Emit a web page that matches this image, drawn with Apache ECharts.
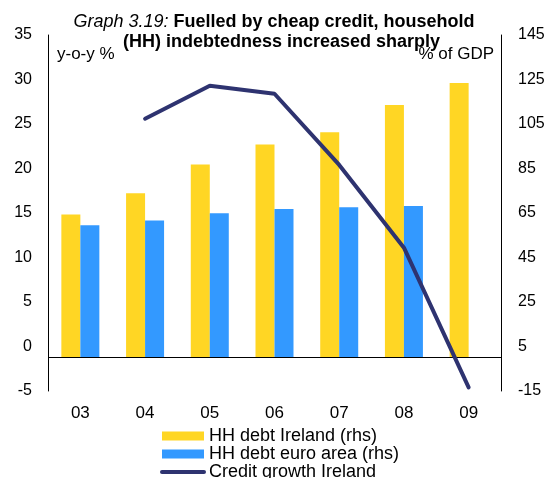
<!DOCTYPE html>
<html>
<head>
<meta charset="utf-8">
<script src="https://cdn.jsdelivr.net/npm/echarts@6/dist/echarts.min.js"></script>
<style>
  html, body { margin: 0; padding: 0; background: #fff; }
  #chart { width: 548px; height: 478px; }
</style>
</head>
<body>
<div id="chart"></div>
<script>
var years = ['03', '04', '05', '06', '07', '08', '09']
var debtIreland = [64.3, 73.9, 86.8, 95.8, 101.3, 113.5, 123.4]
var debtEuro = [59.5, 61.6, 64.9, 66.8, 67.6, 68.1, null]
var creditGrowth = [null, 25.6, 29.3, 28.4, 20.4, 11.1, -4.6]

var font = 'Arial, "Liberation Sans", sans-serif'
var chart = echarts.init(document.getElementById('chart'))

var option = {
  animation: false,
  textStyle: { fontFamily: font },
  title: {
    left: 'center',
    top: 7,
    text: '{i|Graph 3.19:} {b|Fuelled by cheap credit, household}\n   {b|(HH) indebtedness increased sharply}',
    textStyle: {
      rich: {
        i: { fontStyle: 'italic', fontWeight: 'normal', fontSize: 18, color: '#000', fontFamily: font, lineHeight: 20 },
        b: { fontWeight: 'bold', fontSize: 18, color: '#000', fontFamily: font, lineHeight: 20 }
      }
    }
  },
  legend: {
    orient: 'vertical',
    left: 160,
    top: 427,
    height: 80,
    padding: 0,
    itemWidth: 42,
    itemHeight: 9,
    itemGap: 0,
    textStyle: { fontSize: 18, color: '#000', fontFamily: font, lineHeight: 18 },
    data: [
      { name: 'HH debt Ireland (rhs)', icon: 'rect' },
      { name: 'HH debt euro area (rhs)', icon: 'rect' },
      {
        name: 'Credit growth Ireland',
        itemStyle: { color: 'rgba(0,0,0,0)', borderWidth: 0 },
        lineStyle: { color: '#2E3370', width: 4, cap: 'round' }
      }
    ]
  },
  grid: { left: 48, right: 47, top: 35, height: 356 },
  xAxis: {
    type: 'category',
    data: years,
    axisLine: { show: false },
    axisTick: { show: false },
    axisLabel: { fontSize: 17, color: '#000', margin: 14 }
  },
  yAxis: [
    {
      type: 'value',
      min: -5, max: 35, interval: 5,
      name: 'y-o-y %',
      nameLocation: 'end',
      nameGap: -28,
      nameTextStyle: { fontSize: 17, color: '#000', align: 'left', padding: [0, 0, 0, 9] },
      splitLine: { show: false },
      axisLine: { show: true, lineStyle: { color: '#000' } },
      axisTick: { show: false },
      axisLabel: { fontSize: 16, color: '#000', margin: 16 }
    },
    {
      type: 'value',
      min: -15, max: 145, interval: 20,
      name: '% of GDP',
      nameLocation: 'end',
      nameGap: -28,
      nameTextStyle: { fontSize: 17, color: '#000', align: 'right', padding: [0, 7, 0, 0] },
      splitLine: { show: false },
      axisLine: { show: true, lineStyle: { color: '#000' } },
      axisTick: { show: false },
      axisLabel: { fontSize: 16, color: '#000', margin: 17 }
    }
  ],
  series: [
    {
      name: 'HH debt Ireland (rhs)',
      type: 'bar',
      yAxisIndex: 1,
      data: debtIreland,
      barWidth: 19,
      barGap: '0%',
      itemStyle: { color: '#FFD624' },
      markLine: {
        silent: true,
        symbol: 'none',
        label: { show: false },
        lineStyle: { color: '#000', width: 1, type: 'solid' },
        data: [{ yAxis: 0 }]
      }
    },
    {
      name: 'HH debt euro area (rhs)',
      type: 'bar',
      yAxisIndex: 1,
      data: debtEuro,
      barWidth: 19,
      barGap: '0%',
      itemStyle: { color: '#3399FF' }
    },
    {
      name: 'Credit growth Ireland',
      type: 'line',
      yAxisIndex: 0,
      data: creditGrowth,
      symbol: 'none',
      z: 5,
      lineStyle: { color: '#2E3370', width: 4, cap: 'round' },
      itemStyle: { color: '#2E3370' }
    }
  ]
}

chart.setOption(option)
</script>
</body>
</html>
